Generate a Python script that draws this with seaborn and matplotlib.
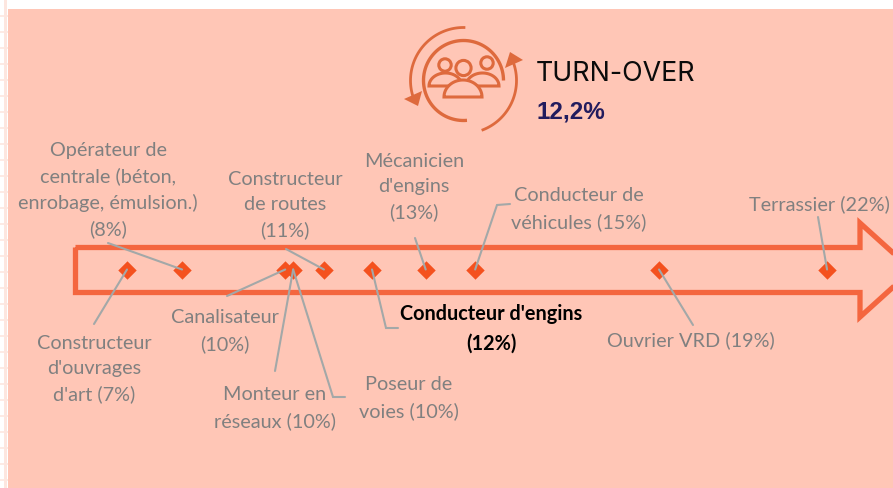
import numpy as np
import pandas as pd
import matplotlib
matplotlib.use("Agg")
import matplotlib.pyplot as plt
from matplotlib.patches import Polygon, Rectangle, Circle
import seaborn as sns

# --- data (position along the scale) ---
jobs = ["Constructeur\nd'ouvrages\nd'art (7%)",
        "Opérateur de\ncentrale (béton,\nenrobage, émulsion.)\n(8%)",
        "Canalisateur\n(10%)",
        "Monteur en\nréseaux (10%)",
        "Constructeur\nde routes\n(11%)",
        "Poseur de\nvoies (10%)",
        "Conducteur d'engins\n(12%)",
        "Mécanicien\nd'engins\n(13%)",
        "Conducteur de\nvéhicules (15%)",
        "Ouvrier VRD (19%)",
        "Terrassier (22%)"]
positions = [7.0, 8.18, 10.39, 10.56, 11.22, 10.56, 12.25, 13.4, 14.46, 18.4, 22.0]
title = "TURN-OVER"
rate = "12,2%"

# --- layout (pixels) ---
W, H = 893, 488
Y0 = 269.5
PX_PER_UNIT = 46.67
X_AT_7 = 127
text_xy = [(94, 369), (108, 190), (225, 331), (275, 408), (285, 205), (409, 398),
           (491, 329), (414, 187), (579, 209), (691, 340), (819, 204)]
leaders = [[(94, 324)], [(108, 243)], [(227, 296)], [(275, 371)], [(286, 249)],
           [(345, 397), (333, 397)], [(398, 328), (386, 328)], [(415, 238)],
           [(510, 204), (497, 205)], [(693, 325)], [(818, 217)]]
TEXT = "#808080"; LINE = "#A3A8A8"; ARROW = "#F4663F"; DOT = "#F4511E"
BG = "#FFC6B6"; GRID = "#FDE6DF"; ICON = "#DE6A3D"; NAVY = "#221C5E"

sns.set_theme(style="white")
plt.rcParams["font.family"] = ["Lato", "DejaVu Sans"]

fig = plt.figure(figsize=(W / 100, H / 100), dpi=100, facecolor="white")
ax = fig.add_axes([0, 0, 1, 1])
ax.set_xlim(0, W); ax.set_ylim(H, 0); ax.axis("off")

# white margin with faint grid
for y in range(16, H, 16):
    ax.plot([0, 8], [y, y], color=GRID, lw=1.2, zorder=0)
ax.add_patch(Rectangle((4, 0), 3, H, color=GRID, lw=0, zorder=0))
ax.add_patch(Rectangle((8, 9), W - 8, H - 9, color=BG, lw=0, zorder=1))

# big outlined arrow
shaft = [(75.5, 247.5), (860, 247.5), (860, 223), (912, 270), (860, 317), (860, 292.5), (75.5, 292.5)]
ax.add_patch(Polygon(shaft, closed=True, fill=False, edgecolor=ARROW, lw=3.8, joinstyle="miter", zorder=2))

# icon
cx, cy = 463.5, 80.5
def arc(r, a0, a1, lw):
    t = np.radians(np.linspace(a0, a1, 80))
    ax.plot(cx + r * np.cos(t), cy - r * np.sin(t), color=ICON, lw=lw, solid_capstyle="butt", zorder=3)
arc(40, 0, 275, 2.4)
arc(53, 88, 198, 2.0)
arc(53, -70, 20, 2.0)
ax.add_patch(Polygon([(404, 99), (422, 91), (418, 106)], color=ICON, lw=0, zorder=3))
ax.add_patch(Polygon([(510, 52), (523, 60), (505, 68)], color=ICON, lw=0, zorder=3))
for hx, hy, hr in [(445, 65, 6.2), (463.5, 68, 7.6), (487, 63, 6.2)]:
    ax.add_patch(Circle((hx, hy), hr, fill=False, edgecolor=ICON, lw=2.2, zorder=3))
def dome(x0, x1, yb, h, lw=2.2):
    t = np.linspace(0, np.pi, 50)
    xm, rx = (x0 + x1) / 2, (x1 - x0) / 2
    ax.fill(xm + rx * np.cos(t), yb - h * np.sin(t), facecolor=BG, edgecolor=ICON, lw=lw, zorder=3)
dome(429, 462, 86, 13)
dome(466, 499, 86, 13)
dome(444, 482, 97, 17)

ax.text(536, 74, title, family=["Inter", "DejaVu Sans"], fontweight="normal", fontsize=19.3,
        color="#0B0B0B", ha="left", va="center", zorder=4)
ax.text(537, 112, rate, family=["Liberation Sans", "DejaVu Sans"], fontweight="bold", fontsize=17.5,
        color=NAVY, ha="left", va="center", zorder=4)

# diamonds, on the data scale
axd = fig.add_axes([0, 0, 1, 1], facecolor="none")
df = pd.DataFrame({"job": jobs, "pos": positions, "lane": 0})
sns.scatterplot(data=df.drop_duplicates("pos"), x="pos", y="lane", marker="D", s=88, color=DOT,
                linewidth=0, ax=axd, legend=False, zorder=3)
axd.set_xlim(7 - X_AT_7 / PX_PER_UNIT, 7 + (W - X_AT_7) / PX_PER_UNIT)
axd.set_ylim(-(H - Y0), Y0)
axd.axis("off")

# leaders and labels, on top
axt = fig.add_axes([0, 0, 1, 1], facecolor="none")
axt.set_xlim(0, W); axt.set_ylim(H, 0); axt.axis("off")
for job, pos, (tx, ty), lead in zip(jobs, positions, text_xy, leaders):
    mx = X_AT_7 + (pos - 7) * PX_PER_UNIT
    pts = lead + [(mx, Y0)]
    axt.plot([p[0] for p in pts], [p[1] for p in pts], color=LINE, lw=1.5, solid_joinstyle="miter", zorder=5)
    bold = job.startswith("Conducteur d'engins")
    axt.text(tx, ty, job, ha="center", va="center", fontsize=14.3, linespacing=1.577,
             color="black" if bold else TEXT, fontweight="bold" if bold else "normal", zorder=6)

fig.savefig("out.png", dpi=100, facecolor="white")
